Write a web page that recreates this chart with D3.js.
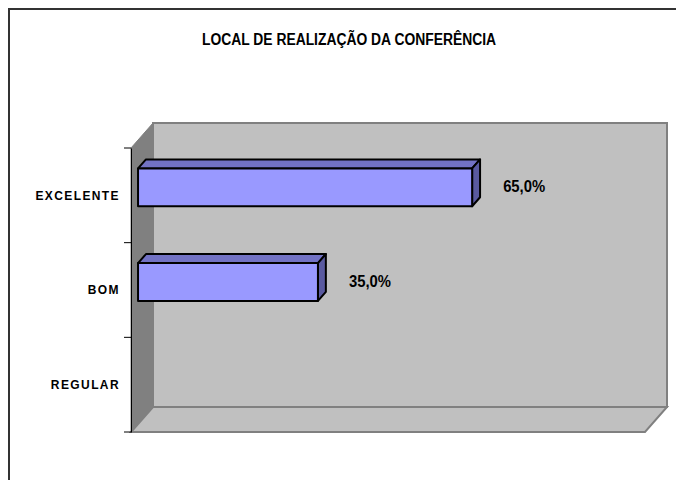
<!DOCTYPE html>
<html>
<head>
<meta charset="utf-8">
<script src="https://cdn.jsdelivr.net/npm/d3@7"></script>
<style>
  body { margin: 0; background: #fff; }
  svg { display: block; }
  .narrow { font-family: "Liberation Sans", Arial, sans-serif; font-weight: bold; }
  .cat { font-family: "Liberation Sans", Arial, sans-serif; font-weight: bold; font-size: 12px; letter-spacing: 1.4px; }
</style>
</head>
<body>
<div id="master"></div>
<script>
// data
let categories = ["EXCELENTE", "BOM", "REGULAR"]
let values = [0.65, 0.35, 0]
let labels = ["65,0%", "35,0%", ""]
let title = "LOCAL DE REALIZAÇÃO DA CONFERÊNCIA"

let w = 676, h = 480
let svg = d3.select("#master").append("svg").attr("width", w).attr("height", h)

// outer frame (runs off the right/bottom edge)
svg.append("rect").attr("x", 9).attr("y", 9).attr("width", w + 20).attr("height", h + 20)
  .attr("fill", "none").attr("stroke", "#333").attr("stroke-width", 2)

// narrow bold look: squeeze a normal bold face
svg.append("text").attr("class", "narrow").attr("x", 202).attr("y", 45)
  .attr("font-size", 16).attr("textLength", 294).attr("lengthAdjust", "spacingAndGlyphs").text(title)

// front plane of the 3d box, depth goes up/right
let DX = 22, DY = 25
let xScale = d3.scaleLinear().domain([0, 1]).range([131, 645])
let yScale = d3.scaleBand().domain(categories).range([148, 432]).paddingInner(0.6).paddingOuter(0.3)
let yAxisScale = d3.scaleBand().domain(categories).range([148, 432])
let P = (x, y, d) => [x + d * DX, y - d * DY]
let poly = pts => "M" + pts.map(p => p.join(",")).join("L") + "Z"

let x0 = xScale(0), x1 = xScale(1), yTop = 148, yBot = 432

// back wall
svg.append("path").attr("d", poly([P(x0, yTop, 1), P(x1, yTop, 1), P(x1, yBot, 1), P(x0, yBot, 1)]))
  .attr("fill", "#c0c0c0").attr("stroke", "#808080").attr("stroke-width", 2)
// left wall
svg.append("path").attr("d", poly([P(x0, yTop, 0), P(x0, yTop, 1), P(x0, yBot, 1), P(x0, yBot, 0)]))
  .attr("fill", "#808080").attr("stroke", "#808080").attr("stroke-width", 1)
// floor
svg.append("path").attr("d", poly([P(x0, yBot, 0), P(x1, yBot, 0), P(x1, yBot, 1), P(x0, yBot, 1)]))
  .attr("fill", "#c0c0c0").attr("stroke", "#808080").attr("stroke-width", 2)

// category axis
let yAxis = d3.axisLeft(yAxisScale).tickSize(0).tickFormat("")
svg.append("g").attr("transform", "translate(" + x0 + ",0)").call(yAxis)
  .call(g => g.select(".domain").attr("stroke", "#000"))
let edges = [0, 1, 2, 3].map(i => 148 + i * yAxisScale.step())
svg.append("g").selectAll("line").data(edges).enter().append("line")
  .attr("x1", x0 - 7).attr("x2", x0).attr("y1", d => d).attr("y2", d => d)
  .attr("stroke", "#000")
svg.append("g").selectAll("text").data(categories).enter().append("text")
  .attr("class", "cat").attr("x", 120).attr("y", d => yAxisScale(d) + yAxisScale.bandwidth() / 2)
  .attr("dy", "0.35em").attr("text-anchor", "end").text(d => d)

// bars
let f = 0.32, b = 0.68
let bars = svg.append("g").selectAll("g").data(categories.map((c, i) => ({c: c, v: values[i], l: labels[i]})).filter(d => d.v > 0))
  .enter().append("g")
bars.each(function (d) {
  let g = d3.select(this)
  let xa = xScale(0), xb = xScale(d.v), ya = yScale(d.c), yb = ya + yScale.bandwidth()
  g.append("path").attr("d", poly([P(xa, ya, f), P(xb, ya, f), P(xb, ya, b), P(xa, ya, b)]))
    .attr("fill", "#7272c4").attr("stroke", "#000").attr("stroke-width", 2).attr("stroke-linejoin", "round")
  g.append("path").attr("d", poly([P(xb, ya, f), P(xb, ya, b), P(xb, yb, b), P(xb, yb, f)]))
    .attr("fill", "#5a5aa0").attr("stroke", "#000").attr("stroke-width", 2).attr("stroke-linejoin", "round")
  g.append("path").attr("d", poly([P(xa, ya, f), P(xb, ya, f), P(xb, yb, f), P(xa, yb, f)]))
    .attr("fill", "#9999ff").attr("stroke", "#000").attr("stroke-width", 2).attr("stroke-linejoin", "round")
  let c = P(xb, (ya + yb) / 2, f)
  g.append("text").attr("class", "narrow").attr("font-size", 16)
    .attr("textLength", 42).attr("lengthAdjust", "spacingAndGlyphs")
    .attr("x", c[0] + 31).attr("y", c[1] - 1).attr("dy", "0.35em").text(d.l)
})
</script>
</body>
</html>
